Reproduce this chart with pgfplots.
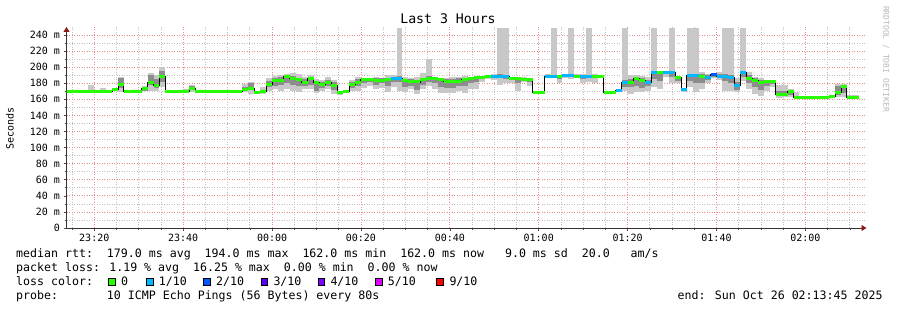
\documentclass[border=0pt]{standalone}
\usepackage{fontspec}
\setmainfont{DejaVu Sans Mono}
\setmonofont{DejaVu Sans Mono}
\usepackage{pgfplots}
\usepackage{pgfplotstable}
\pgfplotsset{compat=1.18}
\usetikzlibrary{arrows.meta}

\definecolor{loss0}{HTML}{26FF00}
\definecolor{loss1}{HTML}{00B8FF}
\definecolor{loss2}{HTML}{0059FF}
\definecolor{loss3}{HTML}{5E00FF}
\definecolor{loss4}{HTML}{7E00FF}
\definecolor{loss5}{HTML}{DD00FF}
\definecolor{loss9}{HTML}{FF0000}
\definecolor{smokeL}{HTML}{C8C8C8}
\definecolor{smokeD}{HTML}{8C8C8C}
\definecolor{gridmaj}{HTML}{EB9090}
\definecolor{gridmin}{HTML}{C0C0C0}
\definecolor{arrowred}{HTML}{8B1A1A}

% x: seconds from 00:00 (step start), w: step length (s), med: median rtt (ms)
% c: loss class (0 = 0/10, 1 = 1/10, 2 = 2/10), lo/hi: smoke range, dlo/dhi: dense smoke
\pgfplotstableread{
x w med c lo hi dlo dhi
-2800 320 170 0 170 170 170 170
-2480 80 170 0 170 178 170 170
-2400 80 170 0 170 170 170 170
-2320 80 170 0 170 174 170 170
-2240 80 170 0 170 170 170 170
-2160 80 172 0 170 173 171 172.5
-2080 80 179 0 169 188 174 186
-2000 240 170 0 170 170 170 170
-1760 80 173 0 170 176 171 174
-1680 80 181 0 171 193 178 190
-1600 80 177 0 171 190 174 185
-1520 80 188 0 175 200 182 195
-1440 80 170 0 170 172 170 170
-1360 160 170 0 170 170 170 170
-1200 80 170 0 170 173 170 170
-1120 80 173 0 169 178 172 177
-1040 640 170 0 170 170 170 170
-400 80 172 0 169 179.5 171 175
-320 80 174 0 167 182 172 180
-240 80 168 0 167 170 168 168
-160 80 170 0 167 175 169 172
-80 80 179 0 171 186 175 183
0 80 183 0 173 189 176 187
80 80 184 0 171 190 178 188
160 80 189 0 173 192 180 190
240 80 186 0 171 193 178 189
320 80 184.5 0 169 191 176 187
400 80 181.5 0 173 188 177 185
480 80 186 0 173 190 178 188
560 80 181.5 0 168 185 170 183
640 80 178 0 171 184 174 181
720 80 181.5 0 173 188 176 184
800 80 177.5 0 167 184 172 181
880 80 168 0 166 170 167 169
960 80 170 0 168 172 169 171
1040 80 178 0 171 184 174 181
1120 80 181.5 0 171 188 176 185
1200 80 185 0 174 187 180 186
1280 80 185 0 176 187 182 186
1360 80 183 0 173 188 178 186
1440 80 184 0 174 187 180 186
1520 80 185 0 169 190 177 187
1600 80 186 1 175 190 182 188
1680 80 186 1 171 249 182 189
1760 80 183 0 169 188 175 185
1840 80 182.6 0 173 186 177 185
1920 80 181.6 0 167 188 172 184
2000 80 184.5 0 173 193 178 187
2080 80 186 0 177 210 182 189
2160 80 186 0 173 187 180 187
2240 80 185 0 168 186 175 186
2320 80 182.6 0 168 187 174 185
2400 80 181.6 0 168 188 174 185
2480 80 182.6 0 171 188 176 186
2560 80 184.5 0 168 189 176 187
2640 80 186 0 173 188 180 187
2720 80 187 0 173 188 182 188
2800 80 187 0 182 188 185 188
2880 80 189 0 185 190 187 190
2960 80 189 1 184 192 187 190
3040 80 189 1 178 249 186 191
3120 80 188 1 180 249 185 190
3200 80 186 0 180 188 184 187
3280 80 186 0 171 188 180 187
3360 80 185 0 182 188 184 186
3440 80 185 0 177 186 181 186
3520 80 168 0 168 168 168 168
3600 80 169 0 169 169 169 169
3680 80 189 1 186 192 188 190
3760 80 189 1 186 249 188 190
3840 80 188 0 180 190 185 189
3920 80 190 1 186 191 188 191
4000 80 190 1 185 249 188 191
4080 80 189 0 186 191 188 190
4160 80 189 1 180 191 185 190
4240 80 189 1 182 249 187 190
4320 80 189 0 180 191 186 190
4400 80 189 0 188 190 188 190
4480 160 168 0 168 168 168 168
4640 80 171 1 169 173 170 172
4720 80 180.7 1 170 249 175 184
4800 80 180.7 0 167 190 175 185
4880 80 186 0 169 190 176 188
4960 80 184 0 169 189 174 187
5040 80 180.7 1 171 188 176 184
5120 80 192.8 1 175 249 185 194
5200 80 193 0 173 194 183 194
5280 80 194 1 188 195 191 195
5360 80 194 1 180 249 188 195
5440 80 187 0 180 188 183 188
5520 80 172 1 169 173 170 173
5600 80 190 1 175 249 183 191
5680 80 190 1 169 249 180 191
5760 80 189 0 173 194 180 191
5840 80 187 1 180 192 184 190
5920 80 191 2 186 192 188 192
6000 80 189 1 184 194 187 191
6080 80 189 1 171 249 183 191
6160 80 187 1 171 249 180 190
6240 80 177 1 169 186 172 182
6320 80 193 1 183 249 188 195
6400 80 186 0 173 194 180 190
6480 80 183 0 167 188 175 186
6560 80 181 0 164 186 172 184
6640 80 181.6 0 171 184 176 183
6720 80 182.6 0 175 183 179 183
6800 80 166 0 162 178 164 170
6880 80 166 0 163 178 164 170
6960 80 170 0 163 173 166 172
7040 80 162 0 162 169 162 164
7120 400 162 0 162 162 162 162
7520 80 163 0 162 166 162 164
7600 80 169 0 163 179 166 176
7680 80 176 0 163 179 168 178
7760 80 162 0 162 165 162 163
7840 80 162 0 162 165 162 163
7920 0 162 0 162 162 162 162
}\data

\begin{document}
\begin{tikzpicture}
\useasboundingbox (0,0) rectangle (897bp,310bp);
\begin{axis}[
  at={(66.5bp,82bp)}, anchor=south west, scale only axis,
  width=800bp, height=201bp,
  xmin=-2775, xmax=8025, ymin=0, ymax=250,
  axis x line=bottom, axis y line=left,
  axis line style={black!80, line width=0.8bp, -{Triangle[length=5bp,width=6bp,color=arrowred]}},
  xtick={-2400,-1200,0,1200,2400,3600,4800,6000,7200},
  xticklabels={23:20,23:40,00:00,00:20,00:40,01:00,01:20,01:40,02:00},
  minor xtick={-2700,-2100,-1800,-1500,-900,-600,-300,300,600,900,1500,1800,2100,2700,3000,3300,3900,4200,4500,5100,5400,5700,6300,6600,6900,7500,7800},
  ytick={0,20,...,240},
  yticklabels={0,20 m,40 m,60 m,80 m,100 m,120 m,140 m,160 m,180 m,200 m,220 m,240 m},
  minor ytick={10,30,...,230},
  grid=both,
  major grid style={gridmaj, line width=0.7bp, dash pattern=on 1bp off 1.5bp},
  minor grid style={gridmin, line width=0.7bp, dash pattern=on 1bp off 1.5bp},
  tick align=outside,
  major tick length=3bp, minor tick length=2bp,
  tick style={black!70, line width=0.6bp},
  tick label style={font=\fontsize{10bp}{12bp}\selectfont, text=black},
  colormap={loss}{color(0)=(loss0) color(1)=(loss1) color(2)=(loss2)},
]
% light smoke: vertical band per 80 s step (step width = 5.93bp)
\addplot[quiver={u=0, v=\thisrow{hi}-\thisrow{lo}}, no markers, smokeL, line width=5.93bp, forget plot]
  table[x expr=\thisrow{x}+40, y=lo] {\data};
% dense smoke
\addplot[quiver={u=0, v=\thisrow{dhi}-\thisrow{dlo}}, no markers, smokeD, line width=5.93bp, forget plot]
  table[x expr=\thisrow{x}+40, y=dlo] {\data};
% median line
\addplot[const plot, black, line width=0.9bp, forget plot] table[x=x, y=med] {\data};
% loss-coloured median bars: one segment per step, coloured by loss class
\addplot[quiver={u=\thisrow{w}, v=0, colored=mapped color}, no markers, line width=3bp,
  point meta=\thisrow{c}, point meta min=0, point meta max=2, forget plot]
  table[x=x, y=med] {\data};
\end{axis}

% title and axis label
\node[anchor=base, font=\fontsize{13.2bp}{15bp}\selectfont] at (448bp,286bp) {Last 3 Hours};
\node[rotate=90, font=\fontsize{10bp}{12bp}\selectfont] at (10bp,181.5bp) {Seconds};
\node[rotate=-90, text=black!28, font=\fontsize{8bp}{10bp}\selectfont] at (886bp,251bp) {RRDTOOL / TOBI OETIKER};

% legend lines
\begin{scope}[every node/.style={anchor=base west, inner sep=0pt, font=\fontsize{11.6bp}{14bp}\selectfont}]
\node at (16bp,52.3bp) {median rtt:~~179.0 ms avg~~194.0 ms max~~162.0 ms min~~162.0 ms now~~~9.0 ms sd~~20.0~~~am/s};
\node at (16bp,38.3bp) {packet loss: 1.19 \% avg~~16.25 \% max~~0.00 \% min~~0.00 \% now};
\node at (16bp,24.3bp) {loss color:};
\node at (16bp,10.7bp) {probe:~~~~~~~10 ICMP Echo Pings (56 Bytes) every 80s};
\node at (677.5bp,10.7bp) {end: Sun Oct 26 02:13:45 2025};
\node at (121bp,24.3bp) {0};
\node at (158.6bp,24.3bp) {1/10};
\node at (216bp,24.3bp) {2/10};
\node at (273.3bp,24.3bp) {3/10};
\node at (330.3bp,24.3bp) {4/10};
\node at (387.6bp,24.3bp) {5/10};
\node at (449.3bp,24.3bp) {9/10};
\end{scope}
\begin{scope}[line width=0.8bp]
\filldraw[fill=loss0, draw=black] (108.6bp,24.6bp) rectangle ++(6.8bp,6.8bp);
\filldraw[fill=loss1, draw=black] (146.3bp,24.6bp) rectangle ++(6.8bp,6.8bp);
\filldraw[fill=loss2, draw=black] (203.6bp,24.6bp) rectangle ++(6.8bp,6.8bp);
\filldraw[fill=loss3, draw=black] (261.0bp,24.6bp) rectangle ++(6.8bp,6.8bp);
\filldraw[fill=loss4, draw=black] (318.0bp,24.6bp) rectangle ++(6.8bp,6.8bp);
\filldraw[fill=loss5, draw=black] (375.3bp,24.6bp) rectangle ++(6.8bp,6.8bp);
\filldraw[fill=loss9, draw=black] (436.3bp,24.6bp) rectangle ++(6.8bp,6.8bp);
\end{scope}
\end{tikzpicture}
\end{document}
